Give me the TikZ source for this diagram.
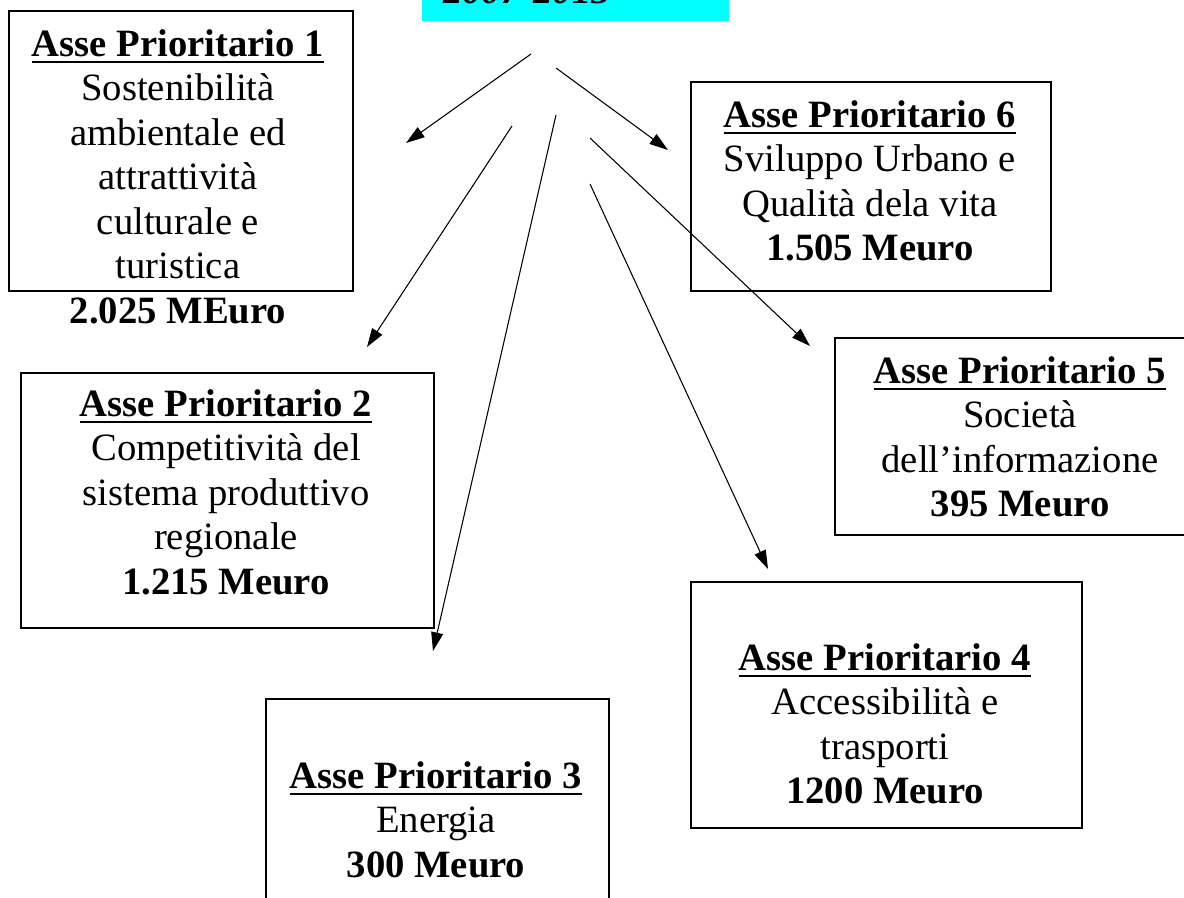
\documentclass[tikz,border=0pt]{standalone}
\usepackage{fontspec}
\setmainfont{Liberation Serif}
\usetikzlibrary{arrows.meta}
\definecolor{aqua}{RGB}{0,255,255}
\newcommand{\hdr}[1]{\leavevmode\setbox0\hbox{\bfseries #1}\rlap{\rule[-5.2pt]{\wd0}{1.5pt}}\box0}
\begin{document}
\begin{tikzpicture}[x=0.75pt,y=-0.75pt,
  box/.style={draw=black,line width=1.2pt,anchor=north west,inner sep=0pt},
  txt/.style={anchor=north,align=center,inner sep=0pt,font=\fontsize{29}{33.4}\selectfont},
  arr/.style={line width=0.8pt,-{Triangle[length=14pt,width=9pt]}}]
\useasboundingbox (0,0) rectangle (1184,898);
% top cyan box
\node[anchor=north west,fill=aqua,minimum width=230.25pt,minimum height=24pt,inner sep=0pt] (top) at (422,-11) {};
\node[anchor=base west,inner sep=0pt,font=\fontsize{29}{33.4}\selectfont\bfseries\itshape] (toptxt) at (443,4) {2007-2013};
% boxes
\node[box,minimum width=258pt,minimum height=210pt] (b1) at (8,10) {};
\node[box,minimum width=270pt,minimum height=156.75pt] (b6) at (690,81) {};
\node[box,minimum width=309.75pt,minimum height=191.25pt] (b2) at (20,372) {};
\node[box,minimum width=270pt,minimum height=147.75pt] (b5) at (834,337) {};
\node[box,minimum width=293.25pt,minimum height=184.5pt] (b4) at (690,581) {};
\node[box,minimum width=257.25pt,minimum height=160pt] (b3) at (265,698) {};
% texts
\node[txt] (t1) at (178,29) {\hdr{Asse Prioritario 1}\\Sostenibilità\\ambientale ed\\attrattività\\culturale e\\turistica\\\textbf{2.025 MEuro}};
\node[txt] (t6) at (870,100) {\hdr{Asse Prioritario 6}\\Sviluppo Urbano e\\Qualità dela vita\\\textbf{1.505 Meuro}};
\node[txt] (t2) at (226,389) {\hdr{Asse Prioritario 2}\\Competitività del\\sistema produttivo\\regionale\\\textbf{1.215 Meuro}};
\node[txt] (t5) at (1020,356) {\hdr{Asse Prioritario 5}\\Società\\dell'informazione\\\textbf{395 Meuro}};
\node[txt] (t4) at (885,643) {\hdr{Asse Prioritario 4}\\Accessibilità e\\trasporti\\\textbf{1200 Meuro}};
\node[txt] (t3) at (436,761) {\hdr{Asse Prioritario 3}\\Energia\\\textbf{300 Meuro}};
% arrow ends
\coordinate (s1) at (531,54);  \coordinate (e1) at (406,143);
\coordinate (s2) at (512,126); \coordinate (e2) at (367,347);
\coordinate (s3) at (556,115); \coordinate (e3) at (433,651);
\coordinate (s4) at (590,184); \coordinate (e4) at (768,569);
\coordinate (s5) at (590,138); \coordinate (e5) at (810,346);
\coordinate (s6) at (556,68);  \coordinate (e6) at (668,150);
\draw[arr] (s1) -- (e1);
\draw[arr] (s2) -- (e2);
\draw[arr] (s3) -- (e3);
\draw[arr] (s4) -- (e4);
\draw[arr] (s5) -- (e5);
\draw[arr] (s6) -- (e6);
\end{tikzpicture}
\end{document}
